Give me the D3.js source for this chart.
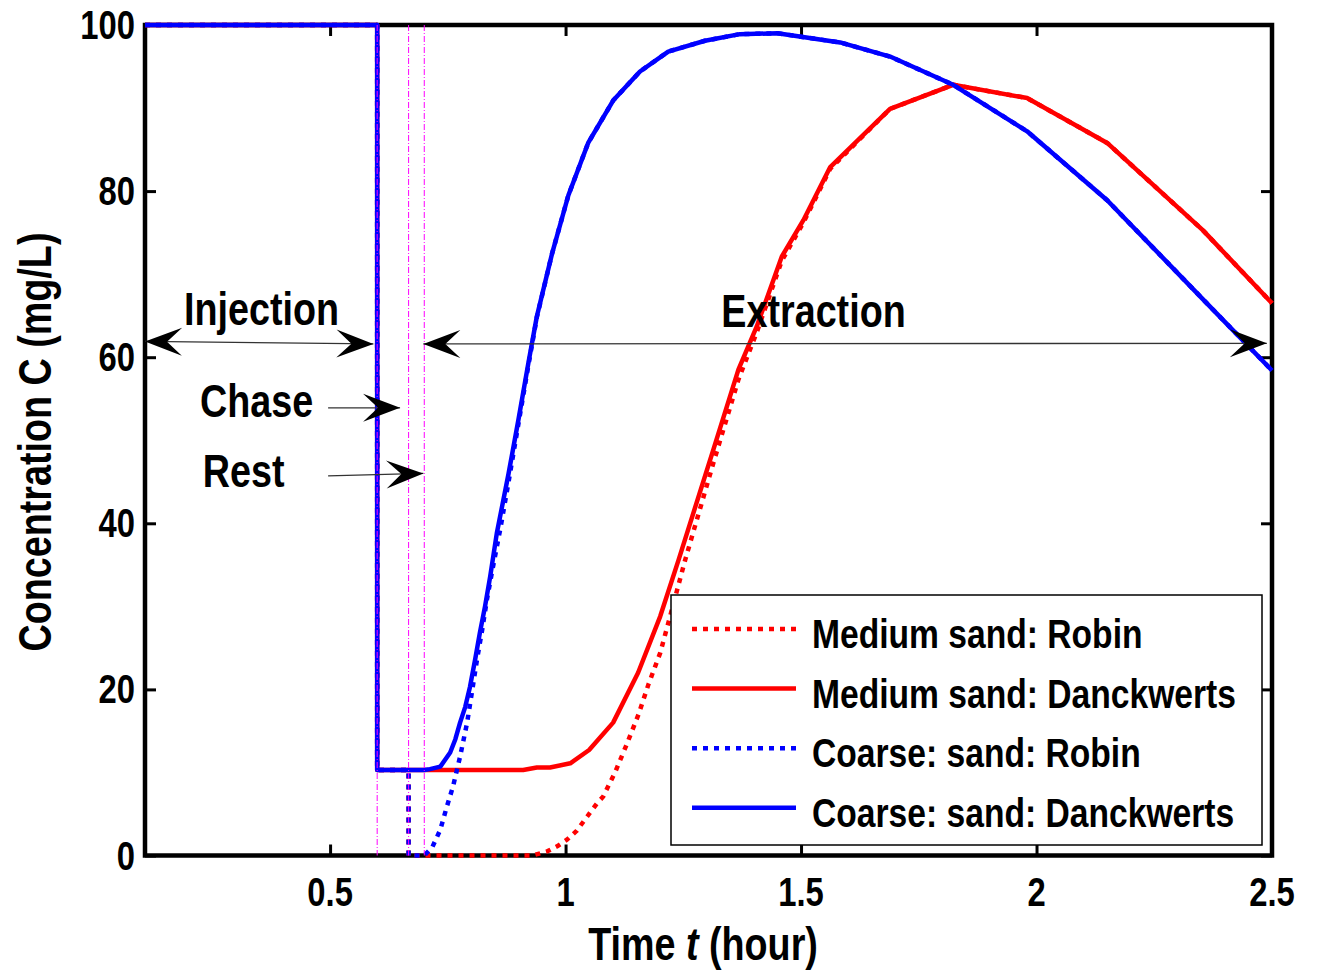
<!DOCTYPE html>
<html>
<head>
<meta charset="utf-8">
<script src="https://cdn.jsdelivr.net/npm/d3@7"></script>
<style>
  body { margin: 0; background: #fff; }
  svg { display: block; }
</style>
</head>
<body>
<svg id="chart" width="1317" height="971"></svg>
<script>
// ---- axis settings ----
const xMin = 0.107, xMax = 2.5;
const xTicks = [0.5, 1, 1.5, 2, 2.5];
const xTickLabels = ["0.5", "1", "1.5", "2", "2.5"];
const yTicks = [0, 20, 40, 60, 80, 100];
const yTickLabels = ["0", "20", "40", "60", "80", "100"];

// end of injection, end of chase, end of rest (hour)
const phaseTimes = [0.6, 0.6667, 0.7];
const phaseNames = ["Injection", "Chase", "Rest", "Extraction"];

// ---- series: time (hour) and concentration (mg/L) ----
const medRobinT = [0.107, 0.6, 0.6, 0.6667, 0.6667, 0.93, 0.961, 0.982, 1.003, 1.024, 1.046, 1.067, 1.08, 1.105, 1.13, 1.155, 1.176, 1.201, 1.222, 1.254, 1.314, 1.367, 1.406, 1.459, 1.505, 1.562, 1.689, 1.823, 1.98, 2.15, 2.353, 2.5];
const medRobinC = [100, 100, 10.3, 10.3, 0, 0, 0.5, 1.1, 1.9, 3.0, 4.7, 6.3, 7.1, 10.0, 13.4, 17.0, 20.6, 24.4, 28.8, 35.6, 47.3, 57.3, 63.0, 71.6, 76.2, 82.7, 89.9, 92.8, 91.2, 85.8, 75.3, 66.5];

const medDanckT = [0.107, 0.6, 0.6, 0.7, 0.91, 0.939, 0.967, 1.01, 1.05, 1.101, 1.154, 1.201, 1.24, 1.314, 1.367, 1.406, 1.459, 1.505, 1.562, 1.689, 1.823, 1.98, 2.15, 2.353, 2.5];
const medDanckC = [100, 100, 10.3, 10.3, 10.3, 10.6, 10.6, 11.1, 12.7, 16.0, 22.0, 28.8, 35.6, 48.9, 58.5, 63.7, 72.1, 76.5, 82.9, 89.9, 92.8, 91.2, 85.8, 75.3, 66.5];

const coarseRobinT = [0.107, 0.6, 0.6, 0.6667, 0.6667, 0.7, 0.717, 0.734, 0.748, 0.761, 0.776, 0.791, 0.801, 0.812, 0.823, 0.833, 0.845, 0.862, 0.879, 0.9, 0.921, 0.939, 0.971, 1.006, 1.048, 1.101, 1.158, 1.218, 1.296, 1.37, 1.45, 1.583, 1.689, 1.823, 1.98, 2.15, 2.353, 2.5];
const coarseRobinC = [100, 100, 10.3, 10.3, 0, 0, 1.0, 3.1, 5.9, 8.3, 11.9, 16.0, 19.6, 23.6, 27.2, 30.8, 34.5, 39.5, 45.0, 52.0, 59.0, 64.8, 72.4, 79.5, 85.8, 90.9, 94.4, 96.8, 98.1, 98.9, 99.0, 97.9, 96.2, 92.8, 87.2, 78.9, 67.0, 58.4];

const coarseDanckT = [0.107, 0.6, 0.6, 0.7, 0.712, 0.734, 0.755, 0.766, 0.776, 0.787, 0.797, 0.808, 0.818, 0.829, 0.84, 0.854, 0.879, 0.9, 0.921, 0.939, 0.971, 1.006, 1.048, 1.101, 1.158, 1.218, 1.296, 1.37, 1.45, 1.583, 1.689, 1.823, 1.98, 2.15, 2.353, 2.5];
const coarseDanckC = [100, 100, 10.3, 10.3, 10.4, 10.7, 12.4, 14.0, 16.0, 17.9, 20.3, 23.6, 26.8, 30.0, 33.6, 38.8, 46.0, 52.5, 59.3, 64.9, 72.4, 79.5, 85.8, 90.9, 94.4, 96.8, 98.1, 98.9, 99.0, 97.9, 96.2, 92.8, 87.2, 78.9, 67.0, 58.4];

const seriesNames = ["Medium sand: Robin", "Medium sand: Danckwerts", "Coarse: sand: Robin", "Coarse: sand: Danckwerts"];

const xLabel = ["Time ", "t", " (hour)"];
const yLabel = "Concentration C (mg/L)";

// ---- font: prefer a narrow bold face, otherwise squeeze the regular one ----
function fontAvailable(name) {
  const c = document.createElement("canvas").getContext("2d");
  const s = "Medium sand: Danckwerts 0123456789";
  c.font = "bold 40px monospace";
  const a = c.measureText(s).width;
  c.font = `bold 40px "${name}", monospace`;
  const b = c.measureText(s).width;
  return Math.abs(a - b) > 1;
}
const hasNarrow = fontAvailable("Liberation Sans Narrow");
const FONT = hasNarrow
  ? '"Liberation Sans Narrow", "Liberation Sans", Arial, sans-serif'
  : '"Liberation Sans", Arial, sans-serif';
const SX = hasNarrow ? 1 : 0.82;

// ---- layout ----
const svg = d3.select("#chart");
const W = 1317, H = 971;
const plot = { left: 145, right: 1272, top: 25, bottom: 855.5 };

const x = d3.scaleLinear().domain([xMin, xMax]).range([plot.left, plot.right]);
const y = d3.scaleLinear().domain([0, 100]).range([plot.bottom, plot.top]);

svg.append("rect").attr("width", W).attr("height", H).attr("fill", "#fff");

function addText(g, str, px, py, size, anchor, extra) {
  return g.append("text")
    .attr("transform", `translate(${px},${py})${extra || ""} scale(${SX},1)`)
    .attr("text-anchor", anchor)
    .attr("font-family", FONT)
    .attr("font-weight", "bold")
    .attr("font-size", size)
    .attr("fill", "#000")
    .text(str);
}

// ---- axes (drawn below the data) ----
const axesG = svg.append("g");

const bottomAxis = d3.axisBottom(x).tickValues(xTicks).tickFormat(() => "")
  .tickSizeInner(-11).tickSizeOuter(0);
const topAxis = d3.axisTop(x).tickValues(xTicks).tickFormat(() => "")
  .tickSizeInner(-11).tickSizeOuter(0);
const leftAxis = d3.axisLeft(y).tickValues(yTicks).tickFormat(() => "")
  .tickSizeInner(-11).tickSizeOuter(0);
const rightAxis = d3.axisRight(y).tickValues(yTicks).tickFormat(() => "")
  .tickSizeInner(-11).tickSizeOuter(0);

axesG.append("g").attr("transform", `translate(0,${plot.bottom})`).call(bottomAxis);
axesG.append("g").attr("transform", `translate(0,${plot.top})`).call(topAxis);
axesG.append("g").attr("transform", `translate(${plot.left},0)`).call(leftAxis);
axesG.append("g").attr("transform", `translate(${plot.right},0)`).call(rightAxis);
axesG.selectAll(".domain").remove();
axesG.selectAll(".tick line").attr("stroke", "#000").attr("stroke-width", 3);

axesG.append("rect")
  .attr("x", plot.left).attr("y", plot.top)
  .attr("width", plot.right - plot.left).attr("height", plot.bottom - plot.top)
  .attr("fill", "none").attr("stroke", "#000").attr("stroke-width", 4.5);

// tick labels
const labG = svg.append("g");
xTicks.forEach((v, i) => addText(labG, xTickLabels[i], x(v), plot.bottom + 50.5, 40, "middle"));
yTicks.forEach((v, i) => addText(labG, yTickLabels[i], plot.left - 10, y(v) + 14, 40, "end"));

// axis titles
const xt = addText(labG, "", 703, 960, 46, "middle");
xt.append("tspan").text(xLabel[0]);
xt.append("tspan").attr("font-style", "italic").text(xLabel[1]);
xt.append("tspan").text(xLabel[2]);
addText(labG, yLabel, 51, 442, 46, "middle", " rotate(-90)");

// ---- data curves ----
const line = d3.line().x(d => x(d[0])).y(d => y(d[1]));
const series = [
  { t: medRobinT, c: medRobinC, color: "#ff0000", dash: "5,6" },
  { t: medDanckT, c: medDanckC, color: "#ff0000", dash: null },
  { t: coarseRobinT, c: coarseRobinC, color: "#0000ff", dash: "5,6" },
  { t: coarseDanckT, c: coarseDanckC, color: "#0000ff", dash: null }
];
const dataG = svg.append("g");
series.forEach(s => {
  const pts = s.t.map((t, i) => [t, s.c[i]]);
  dataG.append("path")
    .attr("d", line(pts))
    .attr("fill", "none")
    .attr("stroke", s.color)
    .attr("stroke-width", 4.5)
    .attr("stroke-linejoin", "round")
    .attr("stroke-linecap", "butt")
    .attr("stroke-dasharray", s.dash);
});

// phase boundaries
phaseTimes.forEach(t => {
  svg.append("line")
    .attr("x1", x(t)).attr("x2", x(t))
    .attr("y1", y(100)).attr("y2", y(0))
    .attr("stroke", "#ff00ff")
    .attr("stroke-width", 1)
    .attr("stroke-dasharray", "6,2,1,2");
});

// ---- phase annotations ----
const annG = svg.append("g");
function arrowHead(g, px, py, ang) {
  g.append("path")
    .attr("d", "M0,0 L-37,-14 L-22,0 L-37,14 Z")
    .attr("transform", `translate(${px},${py}) rotate(${ang * 180 / Math.PI})`)
    .attr("fill", "#000");
}
function arrow(from, to, both) {
  const x1 = x(from[0]), y1 = y(from[1]), x2 = x(to[0]), y2 = y(to[1]);
  annG.append("line")
    .attr("x1", x1).attr("y1", y1).attr("x2", x2).attr("y2", y2)
    .attr("stroke", "#333").attr("stroke-width", 1.3);
  const ang = Math.atan2(y2 - y1, x2 - x1);
  arrowHead(annG, x2, y2, ang);
  if (both) arrowHead(annG, x1, y1, ang + Math.PI);
}
arrow([xMin, 61.9], [0.592, 61.6], true);      // injection
arrow([0.698, 61.6], [2.489, 61.67], true);    // extraction
arrow([0.4958, 53.9], [0.6486, 53.9], false);  // chase
arrow([0.4958, 45.7], [0.698, 46.0], false);   // rest

addText(annG, phaseNames[0], x(0.3546), y(63.88), 46, "middle");
addText(annG, phaseNames[1], x(0.344), y(52.84), 46, "middle");
addText(annG, phaseNames[2], x(0.3164), y(44.41), 46, "middle");
addText(annG, phaseNames[3], x(1.5265), y(63.64), 46, "middle");

// ---- legend ----
const lg = svg.append("g");
lg.append("rect")
  .attr("x", 671).attr("y", 595).attr("width", 591).attr("height", 250)
  .attr("fill", "#fff").attr("stroke", "#000").attr("stroke-width", 1.5);
series.forEach((s, i) => {
  const ly = 629 + i * 59.6;
  lg.append("line")
    .attr("x1", 692).attr("x2", 796).attr("y1", ly).attr("y2", ly)
    .attr("stroke", s.color).attr("stroke-width", 4.5)
    .attr("stroke-dasharray", s.dash);
  addText(lg, seriesNames[i], 812, ly + 19, 41, "start");
});
</script>
</body>
</html>
